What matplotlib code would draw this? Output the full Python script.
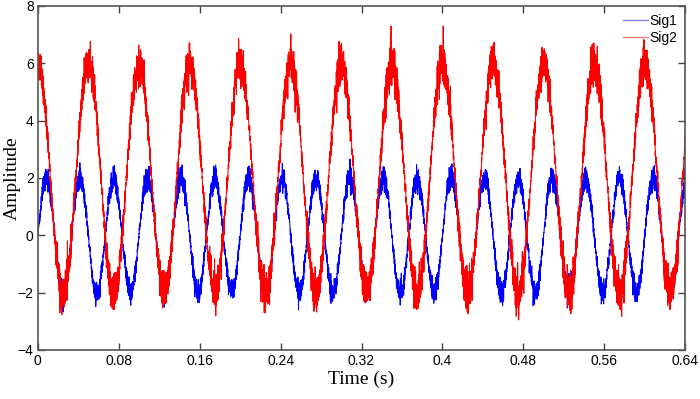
import numpy as np
import matplotlib.pyplot as plt

# values
t_end = 0.64
fs = 10000  # samples per second
sig_names = ['Sig1', 'Sig2']
sig_freq = [30, 20]          # Hz
sig_amp = [2.0, 4.0]
sig_offset = [0.0, 2.0]
sig_phase = [0.0, np.pi / 2]  # Sig1 starts at 0, Sig2 starts at its peak
sig_noise = [0.16, 0.28]
sig_colors = ['#0000ff', '#ff0000']

x_ticks = [0, 0.08, 0.16, 0.24, 0.32, 0.4, 0.48, 0.56, 0.64]
x_tick_labels = ['0', '0.08', '0.16', '0.24', '0.32', '0.4', '0.48', '0.56', '0.64']
y_ticks = [-4, -2, 0, 2, 4, 6, 8]

rng = np.random.default_rng(7)
t = np.arange(0, t_end + 1 / fs, 1 / fs)

fig = plt.figure(figsize=(7, 3.99), dpi=100)
ax = fig.add_axes([0.054, 0.123, 0.925, 0.862])

for name, f, a, off, ph, nz, c in zip(sig_names, sig_freq, sig_amp, sig_offset,
                                       sig_phase, sig_noise, sig_colors):
    clean = a * np.sin(2 * np.pi * f * t + ph)
    # noise is heavier near the peaks and troughs
    scale = nz * (0.4 + 0.9 * np.abs(np.sin(2 * np.pi * f * t + ph)))
    noise = rng.normal(0, 1, t.size) * scale
    y = off + clean + noise
    ax.plot(t, y, color=c, lw=0.75, label=name)

ax.set_xlim(0, t_end)
ax.set_ylim(-4, 8)
ax.set_xticks(x_ticks)
ax.set_xticklabels(x_tick_labels)
ax.set_yticks(y_ticks)
ax.tick_params(direction='in', top=True, right=True, labeltop=False, labelright=False,
               length=5, width=1, colors='#444444', labelcolor='black', labelsize=10,
               pad=3)
for lab in ax.get_xticklabels() + ax.get_yticklabels():
    lab.set_family('Liberation Sans')
for s in ax.spines.values():
    s.set_color('#555555')
    s.set_linewidth(1.2)

ax.set_xlabel('Time (s)', family='Liberation Serif', fontsize=14, labelpad=2)
ax.set_ylabel('Amplitude', family='Liberation Serif', fontsize=14)
ax.yaxis.set_label_coords(-0.027, 0.5)

leg = ax.legend(loc='upper right', frameon=False, handlelength=1.8,
                handletextpad=0.1, borderaxespad=0.2, labelspacing=0.2,
                prop={'family': 'Liberation Sans', 'size': 10})
for line in leg.get_lines():
    line.set_alpha(0.5)
    line.set_linewidth(1.0)

fig.savefig('out.png')
